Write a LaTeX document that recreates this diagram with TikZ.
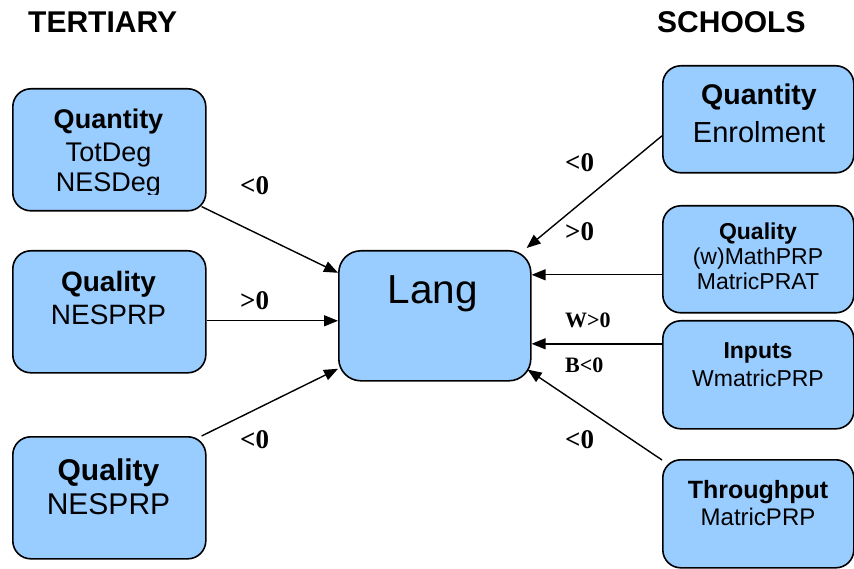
\documentclass[tikz,border=0pt]{standalone}
\usepackage{fontspec}
\setmainfont{Liberation Sans}
\newfontfamily\lblfont{Liberation Serif}
\usetikzlibrary{arrows.meta}
\definecolor{boxblue}{HTML}{99CCFF}
\newcommand{\fs}[1]{\fontsize{#1}{#1}\selectfont}
\begin{document}
\begin{tikzpicture}[x=1pt,y=-1pt,
  box/.style={draw=black, line width=1.6pt, fill=boxblue, rounded corners=18pt,
    inner sep=0pt, anchor=north west},
  bt/.style={anchor=base, inner sep=0pt},
  hd/.style={anchor=base west, inner sep=0pt, font=\fs{30}\bfseries},
  lbl/.style={anchor=base west, inner sep=0pt, font=\lblfont\fs{27}\bfseries},
  slbl/.style={anchor=base west, inner sep=0pt, font=\lblfont\fs{22}\bfseries},
  conn/.style={line width=1.4pt, -{Triangle[length=14pt,width=11pt]}}
]
\useasboundingbox (0,0) rectangle (854,569);

% headers
\node[hd] (hT) at (28,33) {TERTIARY};
\node[hd] (hS) at (657,33) {SCHOOLS};

% boxes
\node[box, minimum width=193pt, minimum height=122pt] (L1) at (12,88) {};
\node[box, minimum width=193pt, minimum height=122pt] (L2) at (12,250) {};
\node[box, minimum width=193pt, minimum height=122pt] (L3) at (12,436) {};
\node[box, minimum width=192pt, minimum height=130pt, rounded corners=22pt] (Lang) at (338,250) {};
\node[box, minimum width=191pt, minimum height=107pt] (R1) at (662,65) {};
\node[box, minimum width=191pt, minimum height=107pt] (R2) at (662,205) {};
\node[box, minimum width=191pt, minimum height=108pt] (R3) at (662,320) {};
\node[box, minimum width=191pt, minimum height=108pt] (R4) at (662,459) {};

% box texts
\node[bt, font=\fs{27}\bfseries] (L1a) at (108.5,129) {Quantity};
\node[bt, font=\fs{27}] (L1b) at (108.5,162) {TotDeg};
\begin{scope}
  \clip (12,170) rectangle (205,194.5);
  \node[bt, font=\fs{27}] (L1c) at (108.5,192) {NESDeg};
\end{scope}

\node[bt, font=\fs{28}\bfseries] (L2a) at (108.5,292) {Quality};
\node[bt, font=\fs{28}] (L2b) at (108.5,325) {NESPRP};

\node[bt, font=\fs{30}\bfseries] (L3a) at (108.5,480) {Quality};
\node[bt, font=\fs{30}] (L3b) at (108.5,514) {NESPRP};

\node[bt, font=\fs{40.5}] (LangT) at (433,304) {Lang};

\node[bt, font=\fs{28.5}\bfseries] (R1a) at (759,105) {Quantity};
\node[bt, font=\fs{29}] (R1b) at (759,143) {Enrolment};

\node[bt, font=\fs{23}\bfseries] (R2a) at (758,240) {Quality};
\node[bt, font=\fs{23}] (R2b) at (758,265) {(w)MathPRP};
\node[bt, font=\fs{23}] (R2c) at (758,290) {MatricPRAT};

\node[bt, font=\fs{23}\bfseries] (R3a) at (758,358) {Inputs};
\node[bt, font=\fs{23}] (R3b) at (758,386) {WmatricPRP};

\node[bt, font=\fs{25}\bfseries] (R4a) at (758,498) {Throughput};
\node[bt, font=\fs{24}] (R4b) at (758,525) {MatricPRP};

% connectors
\draw[conn] ([shift={(-5pt,5pt)}]L1.south east) -- ([yshift=43pt]Lang.west);
\draw[conn] ([yshift=-9pt]L2.east) -- ([yshift=-9pt]L2.east -| Lang.west);
\draw[conn] ([xshift=-5pt]L3.north east) -- ([yshift=-53pt]Lang.west);
\draw[conn] ([yshift=-16.5pt]R1.west) -- ([shift={(-5pt,2pt)}]Lang.north east);
\draw[conn] ([yshift=-15.5pt]R2.west) -- ([yshift=-15.5pt]R2.west -| Lang.east);
\draw[conn] ([yshift=31pt]R3.west) -- ([yshift=31pt]R3.west -| Lang.east);
\draw[conn] ([yshift=-1pt]R4.north west) -- ([shift={(-4pt,12pt)}]Lang.south east);

% labels
\node[lbl] (la1) at (240,195) {<0};
\node[lbl] (la2) at (240,309) {>0};
\node[lbl] (la3) at (240,448) {<0};
\node[lbl] (ra1) at (565,172) {<0};
\node[lbl] (ra2) at (565,241) {>0};
\node[slbl] (ra3) at (565,327) {W>0};
\node[slbl] (ra4) at (565,372) {B<0};
\node[lbl] (ra5) at (565,448) {<0};
\end{tikzpicture}
\end{document}
